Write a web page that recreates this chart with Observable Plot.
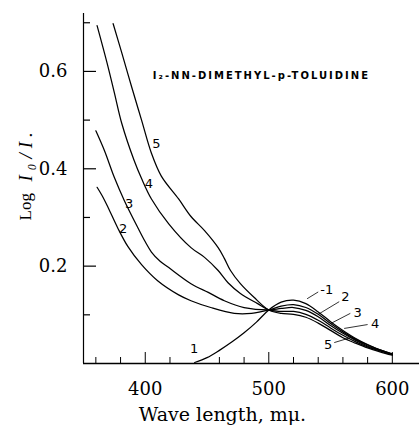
<!DOCTYPE html>
<html><head><meta charset="utf-8">
<script src="https://cdn.jsdelivr.net/npm/d3@7"></script>
<script src="https://cdn.jsdelivr.net/npm/@observablehq/plot@0.6"></script>
<style>body{margin:0;background:#fff}</style>
</head><body><div id="chart"></div>
<script>
// ---- data (wave length in mμ, Log I0/I) ----
const lambda1 = [440,450,460,470,480,490,500,510,520,530,540,550,560,570,580,590,600];
const logI1   = [0.002,0.012,0.027,0.044,0.063,0.085,0.110,0.126,0.130,0.123,0.106,0.086,0.068,0.052,0.039,0.028,0.020];

const lambda2 = [361,365,370,378,386,397,410,427,437,453,472,486,500,510,520,530,540,550,560,570,580,590,600];
const logI2   = [0.362,0.345,0.320,0.277,0.240,0.203,0.170,0.141,0.129,0.115,0.103,0.103,0.110,0.118,0.121,0.115,0.101,0.082,0.065,0.050,0.038,0.028,0.019];

const lambda3 = [360,367,375,383,394,400,405,412,419,437,451,464,480,500,510,520,530,540,550,560,570,580,590,600];
const logI3   = [0.478,0.437,0.382,0.335,0.279,0.250,0.229,0.210,0.197,0.164,0.146,0.129,0.115,0.110,0.113,0.115,0.109,0.096,0.078,0.062,0.048,0.036,0.027,0.019];

const lambda4 = [361,369,375,381,391,397,405,419,437,448,459,467,477,491,500,510,520,530,540,550,560,570,580,590,600];
const logI4   = [0.694,0.618,0.556,0.493,0.417,0.380,0.338,0.287,0.238,0.218,0.191,0.166,0.144,0.123,0.110,0.107,0.107,0.101,0.089,0.073,0.058,0.045,0.034,0.026,0.018];

const lambda5 = [374,381,389,397,405,413,427,437,448,459,464,469,477,488,500,510,520,530,540,550,560,570,580,590,600];
const logI5   = [0.698,0.638,0.568,0.500,0.432,0.385,0.338,0.302,0.273,0.238,0.216,0.191,0.164,0.136,0.110,0.103,0.101,0.095,0.083,0.068,0.053,0.042,0.032,0.024,0.017];

const curveIds = ["1","2","3","4","5"];
const lambdas = [lambda1, lambda2, lambda3, lambda4, lambda5];
const logIs = [logI1, logI2, logI3, logI4, logI5];

// curve labels (left group and right group)
const leftLabelText = ["5","4","3","2","1"];
const leftLabelX    = [409, 403, 387, 382, 439.5];
const leftLabelY    = [0.452, 0.370, 0.329, 0.277, 0.030];

const rightLabelText = ["-1","2","3","4","5"];
const rightLabelX    = [547, 562, 572, 586, 548];
const rightLabelY    = [0.152, 0.136, 0.105, 0.082, 0.039];
const leaderX1 = [540, 557, 566, 580, 553];
const leaderY1 = [0.147, 0.127, 0.103, 0.080, 0.043];
const leaderX2 = [531, 540, 550, 561, 566];
const leaderY2 = [0.133, 0.101, 0.082, 0.072, 0.053];

const titleText = "I₂-NN-DIMETHYL-p-TOLUIDINE";
const titleX = 494, titleY = 0.591;

const xMajorTicks = [400, 500, 600];
const xMinorTicks = [360,380,420,460,480,520,540,560,580];
const yMajorTicks = [0.2, 0.4, 0.6];
const yMinorTicks = [0.1, 0.3, 0.5, 0.7];

// ---- build tables ----
const rows = [];
curveIds.forEach((id, i) => lambdas[i].forEach((l, j) => rows.push({curve: id, lambda: l, v: logIs[i][j]})));
const leftLabels = leftLabelText.map((t, i) => ({t, x: leftLabelX[i], y: leftLabelY[i]}));
const rightLabels = rightLabelText.map((t, i) => ({t, x: rightLabelX[i], y: rightLabelY[i]}));
const leaders = leaderX1.map((x1, i) => ({x1, y1: leaderY1[i], x2: leaderX2[i], y2: leaderY2[i]}));

const W = 419, H = 427, mT = 13, mB = 64, mL = 83, mR = 0;
const fw = W - mL - mR, fh = H - mT - mB;

const chart = Plot.plot({
  width: W, height: H, marginTop: mT, marginBottom: mB, marginLeft: mL, marginRight: mR,
  style: {background: "white", fontFamily: "DejaVu Serif", color: "black"},
  x: {domain: [350, 622]},
  y: {domain: [0, 0.719]},
  marks: [
    Plot.ruleX([350], {stroke: "black", strokeWidth: 1.2}),
    Plot.ruleY([0], {stroke: "black", strokeWidth: 1.4}),
    // inward ticks
    Plot.ruleY(yMajorTicks, {stroke: "black", strokeWidth: 1.2, insetRight: fw - 13}),
    Plot.ruleY(yMinorTicks, {stroke: "black", strokeWidth: 1.2, insetRight: fw - 7}),
    Plot.ruleX(xMajorTicks, {stroke: "black", strokeWidth: 1, insetTop: fh - 11}),
    Plot.ruleX(xMinorTicks, {stroke: "black", strokeWidth: 1, insetTop: fh - 6}),
    Plot.axisY({ticks: yMajorTicks, tickSize: 0, tickPadding: 16, tickFormat: d => d.toFixed(1), fontSize: 18, label: null}),
    Plot.axisX({ticks: xMajorTicks, tickSize: 0, tickPadding: 19, fontSize: 18, label: null}),
    // curves
    Plot.line(rows, {x: "lambda", y: "v", z: "curve", curve: "catmull-rom", stroke: "black", strokeWidth: 1.25}),
    Plot.link(leaders, {x1: "x1", y1: "y1", x2: "x2", y2: "y2", stroke: "black", strokeWidth: 0.8}),
    Plot.text(leftLabels, {x: "x", y: "y", text: "t", fontFamily: "DejaVu Sans", fontSize: 13}),
    Plot.text(rightLabels, {x: "x", y: "y", text: "t", fontFamily: "DejaVu Sans", fontSize: 13}),
    Plot.text([titleText], {x: () => titleX, y: () => titleY, text: d => d, fontFamily: "DejaVu Sans", fontWeight: "bold", fontSize: 10}),
    // axis titles
    Plot.text(["Wave length, mμ."], {frameAnchor: "bottom", dy: 57, dx: -29, fontSize: 19, fontFamily: "DejaVu Serif"}),
    Plot.text(["Log"], {frameAnchor: "left", rotate: -90, dx: -58, dy: 32, fontSize: 17, fontFamily: "Liberation Serif"}),
    Plot.text(["I₀/I."], {frameAnchor: "left", rotate: -90, dx: -58, dy: -7, fontSize: 19, fontStyle: "italic", fontFamily: "Liberation Serif"})
  ]
});
const sel = d3.select(chart).selectAll("text");
sel.filter(function() { return this.textContent === titleText; }).attr("letter-spacing", "2px");
sel.filter(function() { return this.textContent === "I₀/I."; }).attr("letter-spacing", "5px");
document.getElementById("chart").appendChild(chart);
</script>
</body></html>
